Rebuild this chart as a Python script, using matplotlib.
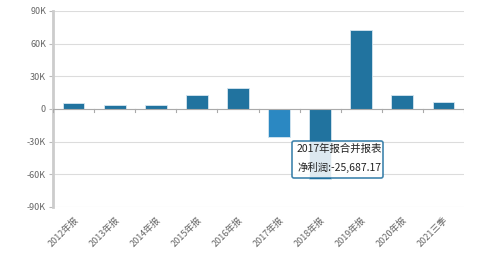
import matplotlib
matplotlib.use('Agg')
import matplotlib.pyplot as plt
from matplotlib.patches import FancyBboxPatch

plt.rcParams['font.family'] = ['Noto Sans CJK SC', 'DejaVu Sans']

periods = ['2012年报', '2013年报', '2014年报', '2015年报', '2016年报',
           '2017年报', '2018年报', '2019年报', '2020年报', '2021三季']
profit = [5200, 3700, 3700, 13100, 19300, -25687.17, -64000, 73000, 13100, 6100]
yticks = [-90000, -60000, -30000, 0, 30000, 60000, 90000]
ylabels = ['-90K', '-60K', '-30K', '0', '30K', '60K', '90K']

fig = plt.figure(figsize=(4.84, 2.57), dpi=100)
ax = fig.add_axes([0.1095, 0.1946, 0.8492, 0.7626])

colors = ['#21739f'] * len(periods)
colors[5] = '#2b88c2'
x = list(range(len(periods)))
ax.bar(x, profit, width=0.53, color=colors, edgecolor='#d6e6f0', linewidth=0.6, zorder=3)

ax.set_xlim(-0.5, len(periods) - 0.5)
ax.set_ylim(-90000, 90000)
ax.set_yticks(yticks)
ax.set_yticklabels(ylabels)
ax.yaxis.grid(True, color='#dcdcdc', linewidth=0.8, zorder=0)
ax.tick_params(axis='y', length=3, color='#bbbbbb', labelsize=6.5, labelcolor='#666666', pad=2)

for s in ['top', 'right', 'bottom']:
    ax.spines[s].set_visible(False)
ax.spines['left'].set_color('#cccccc')
ax.spines['left'].set_linewidth(2)

# zero axis line with category boundary ticks
ax.axhline(0, color='#aaaaaa', linewidth=0.8, zorder=4)
for b in range(len(periods) + 1):
    ax.plot([b - 0.5, b - 0.5], [0, -2800], color='#aaaaaa', linewidth=0.8, zorder=4)

ax.set_xticks(x)
ax.set_xticklabels(periods, rotation=45, ha='right', rotation_mode='anchor')
ax.tick_params(axis='x', length=0, labelsize=6.5, labelcolor='#666666', pad=6)

# tooltip
tip = FancyBboxPatch((292, 79), 91, 37, boxstyle='round,pad=0,rounding_size=2',
                     transform=None, facecolor='white', edgecolor='#1f6f9f',
                     linewidth=1.2, alpha=0.85, zorder=6)
fig.patches.append(tip)
fig.text(297 / 484, 1 - 149 / 257, '2017年报合并报表', fontsize=7.5, color='#222222',
         va='center', ha='left', zorder=7)
fig.text(297 / 484, 1 - 167 / 257, '净利润:-25,687.17', fontsize=7.5, color='#222222',
         va='center', ha='left', zorder=7)

fig.savefig('out.png', dpi=100, facecolor='white')
